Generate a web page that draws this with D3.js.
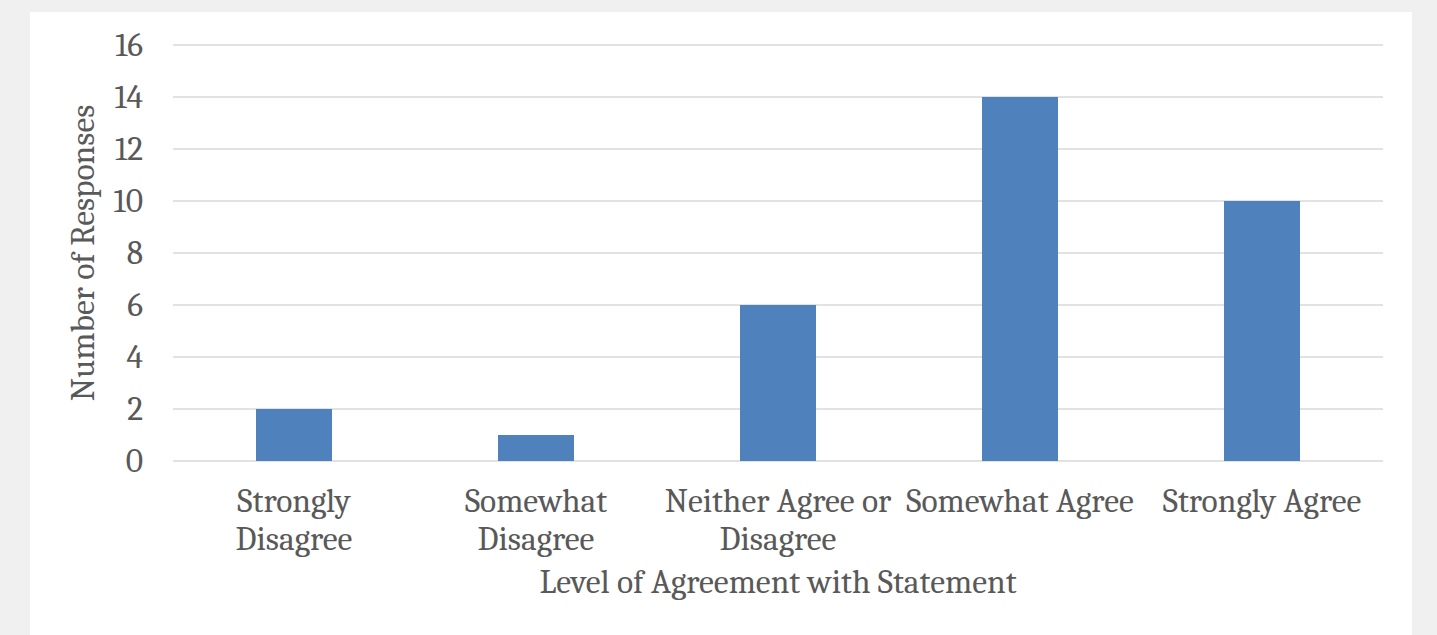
<!DOCTYPE html>
<html><head><meta charset="utf-8">
<script src="https://cdn.jsdelivr.net/npm/d3@7"></script>
<style>body{margin:0;background:#f0f0f0;}svg{display:block;}</style>
</head><body><svg id="c" width="1437" height="635"></svg>
<script>
const categories = [["Strongly","Disagree"],["Somewhat","Disagree"],["Neither Agree or","Disagree"],["Somewhat Agree"],["Strongly Agree"]];
const values = [2,1,6,14,10];
const yTicks = [0,2,4,6,8,10,12,14,16];
const xTitle = "Level of Agreement with Statement";
const yTitle = "Number of Responses";

const svg = d3.select("#c");
const font = "Cambria, Caladea, 'Liberation Serif', 'DejaVu Serif', serif";
const fs = 33.5;
svg.append("rect").attr("x",30).attr("y",12).attr("width",1382).attr("height",640).attr("fill","#fff");
const m = {l:173, r:1383, t:45, b:461};
const x = d3.scaleBand().domain(d3.range(values.length)).range([m.l,m.r]).paddingInner(0.686).paddingOuter(0.343);
const y = d3.scaleLinear().domain([0,16]).range([m.b,m.t]);

svg.append("g").selectAll("line").data(yTicks).join("line")
  .attr("x1",m.l).attr("x2",m.r).attr("y1",d=>y(d)).attr("y2",d=>y(d))
  .attr("stroke","#d9d9d9").attr("stroke-width",1.5);

svg.append("g").selectAll("rect").data(values).join("rect")
  .attr("x",(d,i)=>x(i)).attr("width",x.bandwidth())
  .attr("y",d=>y(d)).attr("height",d=>y(0)-y(d)).attr("fill","#4f81bd");

svg.append("g").selectAll("text").data(yTicks).join("text")
  .attr("x",143).attr("y",d=>y(d)+11).attr("text-anchor","end")
  .attr("font-family",font).attr("font-size",fs).attr("fill","#595959").text(d=>d);

const band = d3.scaleBand().domain(d3.range(values.length)).range([m.l,m.r]);
const cg = svg.append("g").selectAll("text").data(categories).join("text")
  .attr("x",(d,i)=>band(i)+band.bandwidth()/2).attr("y",512).attr("text-anchor","middle")
  .attr("font-family",font).attr("font-size",fs).attr("fill","#595959");
cg.selectAll("tspan").data(d=>d).join("tspan")
  .attr("x",function(){return this.parentNode.getAttribute("x");})
  .attr("dy",(d,i)=>i?38:0).text(d=>d);

svg.append("text").attr("x",(m.l+m.r)/2).attr("y",593).attr("text-anchor","middle")
  .attr("font-family",font).attr("font-size",fs).attr("fill","#595959").text(xTitle);
svg.append("text").attr("transform",`translate(94,${(m.t+m.b)/2}) rotate(-90)`).attr("text-anchor","middle")
  .attr("font-family",font).attr("font-size",fs).attr("fill","#595959").text(yTitle);
</script></body></html>
